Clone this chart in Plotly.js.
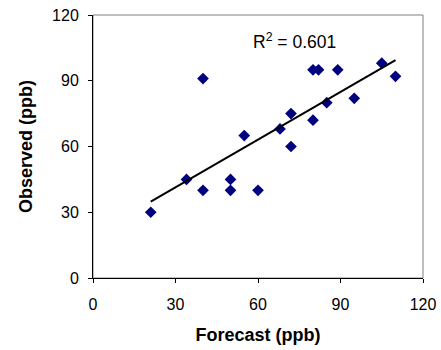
<!DOCTYPE html>
<html>
<head>
<meta charset="utf-8">
<script src="https://cdn.plot.ly/plotly-3.0.1.min.js"></script>
<style>html,body{margin:0;padding:0;background:#fff;}#chart{width:441px;height:350px;}</style>
</head>
<body>
<div id="chart"></div>
<script>
// Observed vs forecast (ppb)
var forecast = [21, 34, 40, 40, 50, 50, 55, 60, 68, 72, 72, 80, 82, 80, 85, 89, 95, 105, 110];
var observed = [30, 45, 40, 91, 45, 40, 65, 40, 68, 75, 60, 95, 95, 72, 80, 95, 82, 98, 92];
// Trend line end points
var trendX = [21, 110];
var trendY = [34.8, 99.4];
var r2Label = 'R<sup>2</sup> = 0.601';
var tickVals = [0, 30, 60, 90, 120];

var font = 'Arial, "Liberation Sans", sans-serif';

var traces = [
  {
    x: forecast, y: observed, type: 'scatter', mode: 'markers',
    marker: {symbol: 'diamond', color: '#000080', size: 9, line: {width: 0}},
    hoverinfo: 'x+y'
  },
  {
    x: trendX, y: trendY, type: 'scatter', mode: 'lines',
    line: {color: '#000000', width: 2}, hoverinfo: 'skip'
  }
];

var axisCommon = {
  range: [0, 120], tickvals: tickVals, ticktext: tickVals.map(String),
  showgrid: false, zeroline: false, showline: true, linecolor: '#000000', linewidth: 1,
  ticks: 'outside', ticklen: 4, tickcolor: '#000000', tickwidth: 1,
  tickfont: {family: font, size: 16, color: '#000000'}, fixedrange: true
};

var layout = {
  width: 441, height: 350,
  margin: {l: 93, r: 18, t: 15, b: 72},
  paper_bgcolor: '#ffffff', plot_bgcolor: '#ffffff',
  showlegend: false,
  xaxis: Object.assign({}, axisCommon, {
    ticklabelstandoff: 8,
    title: {text: '<b>Forecast (ppb)</b>', font: {family: font, size: 18, color: '#000000'}, standoff: 16}
  }),
  yaxis: Object.assign({}, axisCommon, {
    ticklabelstandoff: 6,
    title: {text: '<b>Observed (ppb)</b>', font: {family: font, size: 18, color: '#000000'}, standoff: 14}
  }),
  shapes: [{
    type: 'rect', xref: 'paper', yref: 'paper', x0: 0, x1: 1, y0: 0, y1: 1,
    line: {color: '#808080', width: 1}, layer: 'below'
  }],
  annotations: [{
    x: 73.4, y: 108.2, xref: 'x', yref: 'y', text: r2Label, showarrow: false,
    xanchor: 'center', yanchor: 'middle',
    font: {family: font, size: 17.5, color: '#000000'}
  }]
};

Plotly.newPlot('chart', traces, layout, {displayModeBar: false, staticPlot: true});
</script>
</body>
</html>
